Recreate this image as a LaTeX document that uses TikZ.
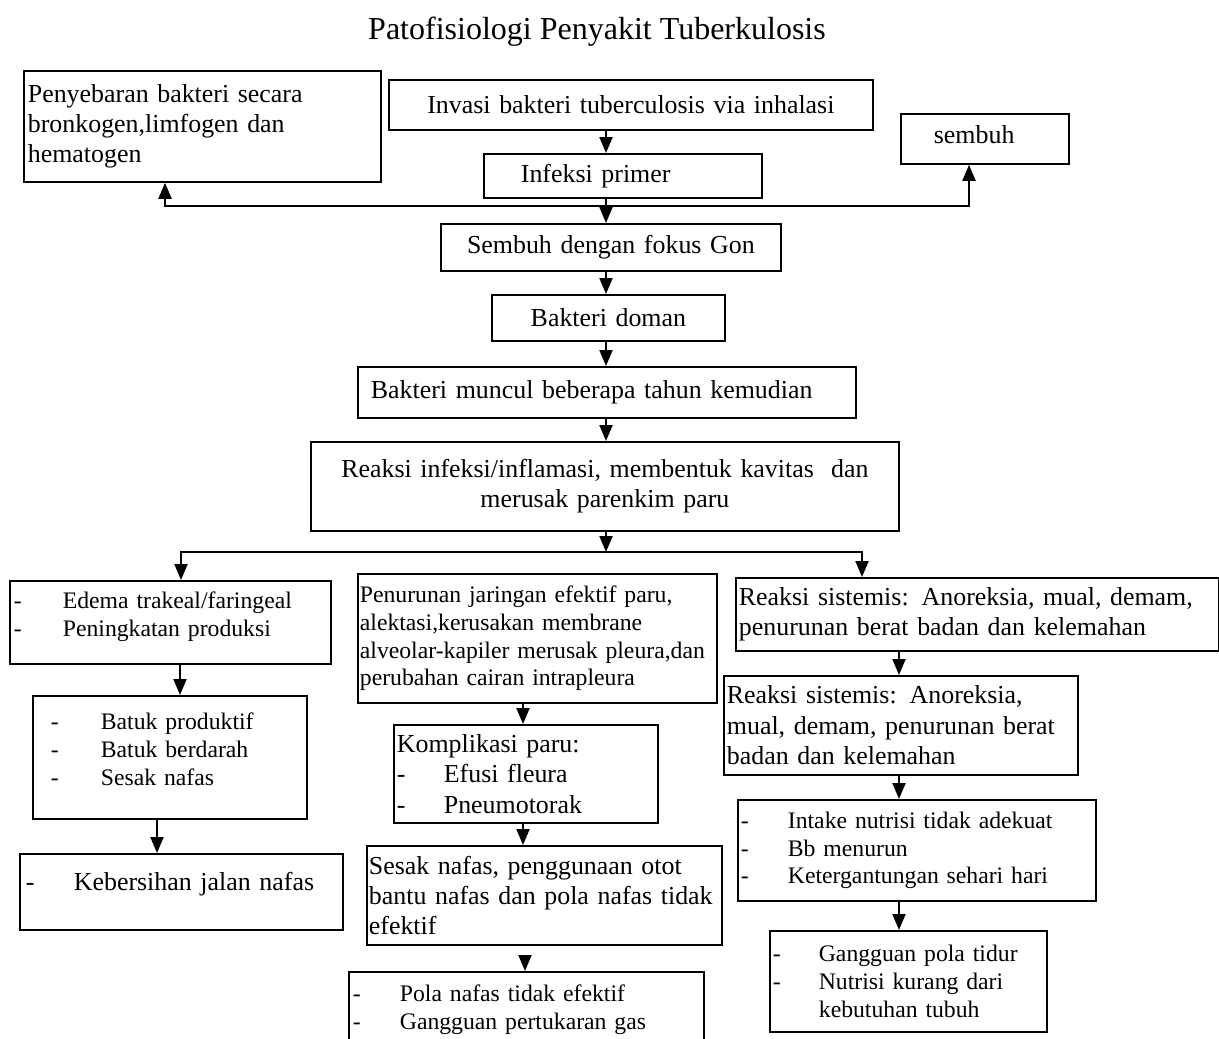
\documentclass[tikz,border=0pt]{standalone}
\usepackage{fontspec}
\setmainfont{Liberation Serif}
\usetikzlibrary{arrows.meta}
\usetikzlibrary{calc}
\newcommand{\isi}{\fontsize{25.9pt}{30.4pt}\selectfont}
\newcommand{\kecil}{\fontsize{23.7pt}{27.8pt}\selectfont}
\newcommand{\judul}{\fontsize{32pt}{36pt}\selectfont}
\newcommand{\strip}[1][47pt]{\makebox[#1][l]{-}}
\newcommand{\ganjal}[1]{\rule[-#1]{0pt}{0pt}}

\begin{document}
\begin{tikzpicture}[x=1pt,y=-1pt,
    kotak/.style={draw, line width=1.8pt, anchor=north west, inner xsep=4pt, inner ysep=0pt, align=left, font=\isi},
    panah/.style={-{Triangle[length=16pt,width=13pt]}, line width=2pt}]
    \useasboundingbox (0,0) rectangle (1219,1039);

    \node[font=\judul, anchor=base] (judul) at (597,39) {Patofisiologi Penyakit Tuberkulosis};

    % baris atas
    \node[kotak, text width=349pt, minimum height=111pt] (sebar) at (23,70) {Penyebaran bakteri secara\\bronkogen,limfogen dan\\hematogen};
    \node[kotak, text width=476pt, minimum height=50pt, align=center] (invasi) at (388,79) {Invasi bakteri tuberculosis via inhalasi};
    \node[kotak, text width=270pt, minimum height=44pt] (primer) at (483,153) {\hspace*{33pt}Infeksi primer};
    \node[kotak, text width=160pt, minimum height=50pt] (sembuh) at (900,113) {\hspace*{29pt}sembuh\ganjal{8pt}};
    \node[kotak, text width=332pt, minimum height=47pt, align=center] (gon) at (440,223) {Sembuh dengan fokus Gon};
    \node[kotak, text width=225pt, minimum height=46pt, align=center] (doman) at (491,294) {Bakteri doman};
    \node[kotak, text width=490pt, minimum height=51pt] (muncul) at (357,366) {\hspace*{9pt}Bakteri muncul beberapa tahun kemudian};
    \node[kotak, text width=580pt, minimum height=89pt, align=center] (reaksi) at (310,441) {Reaksi infeksi/inflamasi, membentuk kavitas \ dan\\merusak parenkim paru};

    % cabang kiri
    \node[kotak, font=\kecil, text width=313pt, minimum height=83pt] (edema) at (9,580) {\strip[49pt]Edema trakeal/faringeal\\\strip[49pt]Peningkatan produksi\ganjal{16pt}};
    \node[kotak, font=\kecil, text width=266pt, minimum height=123pt] (batuk) at (32,695) {\hspace*{14pt}\strip[50pt]Batuk produktif\\\hspace*{14pt}\strip[50pt]Batuk berdarah\\\hspace*{14pt}\strip[50pt]Sesak nafas\ganjal{16pt}};
    \node[kotak, text width=315pt, minimum height=76pt] (bersih) at (19,853) {\hspace*{2pt}\strip[48pt]Kebersihan jalan nafas\ganjal{22pt}};

    % cabang tengah
    \node[kotak, font=\kecil, inner xsep=2pt, text width=355pt, minimum height=129pt] (jaringan) at (357,573) {Penurunan jaringan efektif paru,\\alektasi,kerusakan membrane\\alveolar-kapiler merusak pleura,dan\\perubahan cairan intrapleura};
    \node[kotak, inner xsep=3pt, text width=258pt, minimum height=98pt] (komplikasi) at (393,724) {Komplikasi paru:\\\strip Efusi fleura\\\strip Pneumotorak};
    \node[kotak, inner xsep=2pt, text width=351pt, minimum height=99pt] (sesak) at (366,845) {Sesak nafas, penggunaan otot\\bantu nafas dan pola nafas tidak\\efektif};
    \node[kotak, font=\kecil, text width=347pt, minimum height=100pt] (pola) at (348,971) {\strip Pola nafas tidak efektif\\\strip Gangguan pertukaran gas\ganjal{30pt}};

    % cabang kanan
    \node[kotak, inner xsep=3pt, text width=477pt, minimum height=73pt] (sistemis1) at (735,577) {Reaksi sistemis: Anoreksia, mual, demam,\\penurunan berat badan dan kelemahan};
    \node[kotak, inner xsep=3pt, text width=348pt, minimum height=99pt] (sistemis2) at (723,675) {Reaksi sistemis: Anoreksia,\\mual, demam, penurunan berat\\badan dan kelemahan};
    \node[kotak, font=\kecil, inner xsep=3pt, text width=352pt, minimum height=101pt] (intake) at (737,799) {\strip Intake nutrisi tidak adekuat\\\strip Bb menurun\\\strip Ketergantungan sehari hari};
    \node[kotak, font=\kecil, inner xsep=3pt, text width=271pt, minimum height=101pt] (tidur) at (769,930) {\strip[46pt]Gangguan pola tidur\\\strip[46pt]Nutrisi kurang dari\\\hspace*{46pt}kebutuhan tubuh};

    % panah
    \coordinate (poros) at (606,0);
    \coordinate (cabang1) at (606,206);
    \coordinate (kiri1) at (165,206);
    \coordinate (kanan1) at (969,206);
    \coordinate (cabang2) at (606,552);
    \coordinate (kiri2) at (181,552);
    \coordinate (kanan2) at (862,552);
    \coordinate (kolom1) at (180,0);
    \coordinate (kolom1b) at (157,0);
    \coordinate (kolom2) at (523,0);
    \coordinate (kolom3) at (899,0);

    \draw[panah] (invasi.south -| poros) -- (primer.north -| poros);
    \draw[panah] (primer.south -| poros) -- (gon.north -| poros);
    \draw[panah] (cabang1) -| (sebar.south -| kiri1);
    \draw[panah] (cabang1) -| (sembuh.south -| kanan1);
    \draw[panah] (gon.south -| poros) -- (doman.north -| poros);
    \draw[panah] (doman.south -| poros) -- (muncul.north -| poros);
    \draw[panah] (muncul.south -| poros) -- (reaksi.north -| poros);
    \draw[panah] (reaksi.south -| poros) -- (cabang2);
    \draw[panah] (cabang2) -| (edema.north -| kiri2);
    \draw[panah] (cabang2) -| (sistemis1.north -| kanan2);

    \draw[panah] (edema.south -| kolom1) -- (batuk.north -| kolom1);
    \draw[panah] (batuk.south -| kolom1b) -- (bersih.north -| kolom1b);
    \draw[panah] (jaringan.south -| kolom2) -- (komplikasi.north -| kolom2);
    \draw[panah] (komplikasi.south -| kolom2) -- (sesak.north -| kolom2);
    \draw[panah, shorten <=9pt] ([xshift=2pt]sesak.south -| kolom2) -- ([xshift=2pt]pola.north -| kolom2);
    \draw[panah] (sistemis1.south -| kolom3) -- (sistemis2.north -| kolom3);
    \draw[panah] (sistemis2.south -| kolom3) -- (intake.north -| kolom3);
    \draw[panah] (intake.south -| kolom3) -- (tidur.north -| kolom3);
\end{tikzpicture}
\end{document}
